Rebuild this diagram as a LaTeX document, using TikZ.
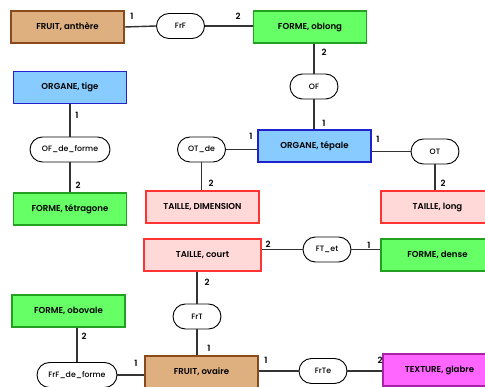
\documentclass[tikz,border=0pt]{standalone}
\usepackage{fontspec}
\setmainfont{Poppins}[UprightFont=* Medium, BoldFont=* SemiBold]
\begin{document}
\begin{tikzpicture}[x=1pt,y=-1pt,
  concept/.style={draw, line width=1.6pt, minimum width=113pt, minimum height=32pt,
    inner sep=0pt, font=\bfseries\fontsize{8.6}{10}\selectfont},
  fruit/.style={concept, fill=fruitfill, draw=fruitline},
  forme/.style={concept, fill=formefill, draw=formeline},
  organe/.style={concept, fill=organefill, draw=organeline},
  taille/.style={concept, fill=taillefill, draw=tailleline},
  texture/.style={concept, fill=texturefill, draw=textureline},
  relation/.style={draw=black, line width=0.9pt, rounded corners=12.5pt, fill=white,
    minimum width=48pt, minimum height=25pt, inner sep=0pt, font=\fontsize{7.8}{9}\selectfont},
  link/.style={draw=linkgray, line width=1.4pt},
  card/.style={font=\bfseries\fontsize{8.6}{10}\selectfont, inner sep=0pt}
]
\definecolor{fruitfill}{HTML}{DEB080}
\definecolor{fruitline}{HTML}{8B4A1C}
\definecolor{formefill}{HTML}{66FF66}
\definecolor{formeline}{HTML}{22A022}
\definecolor{organefill}{HTML}{88CCFF}
\definecolor{organeline}{HTML}{2222CC}
\definecolor{taillefill}{HTML}{FFD8D8}
\definecolor{tailleline}{HTML}{FF3333}
\definecolor{texturefill}{HTML}{FF66FF}
\definecolor{textureline}{HTML}{AA22AA}
\definecolor{linkgray}{HTML}{333333}

\useasboundingbox (0,0) rectangle (485,387);
\clip (0,0) rectangle (485,387);

% concepts
\node[fruit]   (fa)  at (67.5,27)  {FRUIT, anthère};
\node[forme]   (fo)  at (310,27)   {FORME, oblong};
\node[organe]  (ot)  at (70,87.5)  {ORGANE, tige};
\node[organe]  (otp) at (314.5,146){ORGANE, tépale};
\node[forme]   (ftg) at (70,209)   {FORME, tétragone};
\node[taille]  (td)  at (202.5,207){TAILLE, DIMENSION};
\node[taille]  (tl)  at (437.5,207){TAILLE, long};
\node[taille, minimum width=117pt] (tc) at (202.5,255) {TAILLE, court};
\node[forme]   (fd)  at (437.5,255){FORME, dense};
\node[forme]   (fob) at (68.5,311) {FORME, obovale};
\node[fruit]   (fov) at (201.5,372){FRUIT, ovaire};
\node[texture] (tg)  at (439.5,370){TEXTURE, glabre};

% relations
\node[relation] (frf)   at (180.5,26)  {FrF};
\node[relation] (of)    at (314,86.5)  {OF};
\node[relation, minimum width=80pt] (ofdf) at (70,149.5) {OF\_de\_forme};
\node[relation] (otde)  at (201.5,149.5) {OT\_de};
\node[relation] (otr)   at (435,151.5) {OT};
\node[relation] (ftet)  at (327,249.5) {FT\_et};
\node[relation] (frt)   at (197,316.5) {FrT};
\node[relation, minimum width=80pt] (frfdf) at (77,375) {FrF\_de\_forme};
\node[relation] (frte)  at (323,371)   {FrTe};

% links between concepts and relations
\draw[link] (fa.east) -- (frf.west);
\draw[link] (frf.east) -- (fo.west |- frf);
\draw[link] (of.north) -- (fo.south -| of);
\draw[link] (of.south) -- (otp.north -| of);
\draw[link] (ot.south -| ofdf) -- (ofdf.north);
\draw[link] (ofdf.south) -- (ftg.north -| ofdf);
\draw[link] (otde.east) -- (otp.west |- otde);
\draw[link] (otde.south) -- (td.north -| otde);
\draw[link] (otp.east |- otr) -- (otr.west);
\draw[link] (otr.south) -- (tl.north -| otr);
\draw[link] (tc.east |- ftet) -- (ftet.west);
\draw[link] (ftet.east) -- (fd.west |- ftet);
\draw[link] (tc.south -| frt) -- (frt.north);
\draw[link] (frt.south) -- (fov.north -| frt);
\draw[link] (fob.south -| frfdf) -- (frfdf.north);
\draw[link] (frfdf.east) -- (fov.west |- frfdf);
\draw[link] (fov.east |- frte) -- (frte.west);
\draw[link] (frte.east) -- (tg.west |- frte);

% cardinalities
\node[card] (c1)  at (132,16)  {1};
\node[card] (c2)  at (238,16)  {2};
\node[card] (c3)  at (324,52)  {2};
\node[card] (c4)  at (324,123) {1};
\node[card] (c5)  at (77,115)  {1};
\node[card] (c6)  at (78,185)  {2};
\node[card] (c7)  at (251,136) {1};
\node[card] (c8)  at (211,183) {2};
\node[card] (c9)  at (378,139) {1};
\node[card] (c10) at (443,183) {2};
\node[card] (c11) at (268,244) {2};
\node[card] (c12) at (369,245) {1};
\node[card] (c13) at (207,282) {2};
\node[card] (c14) at (209,348) {1};
\node[card] (c15) at (84,336)  {2};
\node[card] (c16) at (136,363) {1};
\node[card] (c17) at (266,360) {1};
\node[card] (c18) at (380,360) {2};
\end{tikzpicture}
\end{document}
